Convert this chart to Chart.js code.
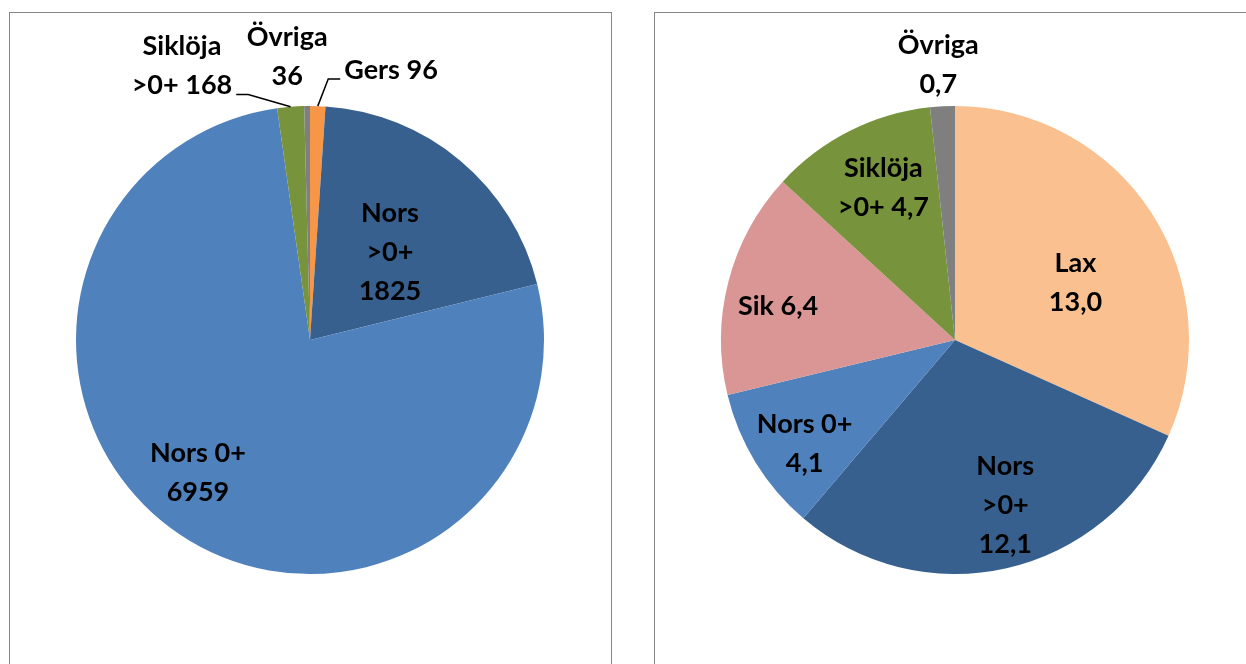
<!DOCTYPE html>
<html>
<head>
<meta charset="utf-8">
<script src="https://cdn.jsdelivr.net/npm/chart.js@4.4.0/dist/chart.umd.min.js"></script>
<style>
  body { margin: 0; background: #fff; width: 1246px; height: 664px; overflow: hidden; position: relative; }
  .box { position: absolute; border: 1px solid #868686; background: #fff; }
  #box1 { left: 9px; top: 12px; width: 601px; height: 700px; }
  #box2 { left: 654px; top: 12px; width: 700px; height: 700px; }
  canvas { position: absolute; }
  #left { left: 10px; top: 13px; }
  #right { left: 655px; top: 13px; }
</style>
</head>
<body>
<div class="box" id="box1"></div>
<div class="box" id="box2"></div>
<canvas id="left" width="600" height="651"></canvas>
<canvas id="right" width="591" height="651"></canvas>
<script>
// left pie: numbers
const leftCategories = ['Gers', 'Nors >0+', 'Nors 0+', 'Siklöja >0+', 'Övriga'];
const leftValues = [96, 1825, 6959, 168, 36];
const leftColors = ['#F79646', '#37608F', '#4F81BD', '#77933C', '#7F7F7F'];

// right pie: biomass
const rightCategories = ['Lax', 'Nors >0+', 'Nors 0+', 'Sik', 'Siklöja >0+', 'Övriga'];
const rightValues = [13.0, 12.1, 4.1, 6.4, 4.7, 0.7];
const rightColors = ['#FAC090', '#37608F', '#4F81BD', '#D99694', '#77933C', '#7F7F7F'];

const labelFont = "bold 27px Lato, 'Liberation Sans', sans-serif";

function wrap(ctx, text, maxW) {
  const words = text.split(' ');
  const lines = [];
  let cur = '';
  words.forEach(w => {
    const t = cur ? cur + ' ' + w : w;
    if (cur && ctx.measureText(t).width > maxW) { lines.push(cur); cur = w; }
    else cur = t;
  });
  lines.push(cur);
  return lines;
}

// draws excel-like data labels (category + value), with leader lines for outside ones
const sliceLabels = {
  id: 'sliceLabels',
  afterDatasetsDraw(chart, args, opts) {
    const ctx = chart.ctx;
    const meta = chart.getDatasetMeta(0);
    const values = chart.data.datasets[0].data;
    const lh = opts.lineHeight;
    ctx.save();
    ctx.font = opts.font;
    ctx.fillStyle = '#000';
    ctx.strokeStyle = '#000';
    ctx.lineWidth = 1.5;
    ctx.textAlign = 'center';
    ctx.textBaseline = 'middle';
    meta.data.forEach((arc, i) => {
      const cfg = opts.place[i];
      const p = arc.getProps(['x', 'y', 'startAngle', 'endAngle', 'outerRadius'], true);
      const mid = (p.startAngle + p.endAngle) / 2;
      const a = mid + cfg.da * Math.PI / 180;
      const x = p.x + Math.cos(a) * p.outerRadius * cfg.r;
      const y = p.y + Math.sin(a) * p.outerRadius * cfg.r;
      const text = chart.data.labels[i] + ' ' + opts.format(values[i]);
      const lines = wrap(ctx, text, cfg.w);
      const top = y - (lines.length - 1) * lh / 2;
      lines.forEach((ln, k) => ctx.fillText(ln, x, top + k * lh));
      if (cfg.leader) {
        const last = lines[lines.length - 1];
        const wl = ctx.measureText(last).width;
        const ly = top + (lines.length - 1) * lh + 9;
        const dir = cfg.leader === 'left' ? -1 : 1;
        const endX = x + dir * (wl / 2 + 4);
        const elbowX = endX + dir * 12;
        ctx.beginPath();
        ctx.moveTo(p.x + Math.cos(mid) * p.outerRadius, p.y + Math.sin(mid) * p.outerRadius);
        ctx.lineTo(elbowX, ly);
        ctx.lineTo(endX, ly);
        ctx.stroke();
      }
    });
    ctx.restore();
  }
};

function makePie(id, cats, vals, colors, pad, place, format) {
  new Chart(document.getElementById(id), {
    type: 'pie',
    data: {
      labels: cats,
      datasets: [{ data: vals, backgroundColor: colors, borderWidth: 0 }]
    },
    options: {
      responsive: false,
      animation: false,
      layout: { padding: pad },
      plugins: {
        legend: { display: false },
        tooltip: { enabled: false },
        sliceLabels: { font: labelFont, lineHeight: 39, place: place, format: format }
      }
    },
    plugins: [sliceLabels]
  });
}

makePie('left', leftCategories, leftValues, leftColors,
  { left: 66, right: 66, top: 93, bottom: 90 },
  [
    { da: 14.8, r: 1.205, w: 200, leader: 'left' },
    { da: 2.3, r: 0.508, w: 60 },
    { da: 6.1, r: 0.743, w: 110 },
    { da: -20.3, r: 1.292, w: 115, leader: 'right' },
    { da: -3.9, r: 1.213, w: 95 }
  ],
  v => String(v));

makePie('right', rightCategories, rightValues, rightColors,
  { left: 66, right: 57, top: 93, bottom: 90 },
  [
    { da: 7.5, r: 0.57, w: 60 },
    { da: -4.2, r: 0.737, w: 60 },
    { da: -2.9, r: 0.78, w: 115 },
    { da: -3.6, r: 0.77, w: 120 },
    { da: 1.6, r: 0.72, w: 115 },
    { da: -0.4, r: 1.18, w: 95 }
  ],
  v => v.toFixed(1).replace('.', ','));
</script>
</body>
</html>
